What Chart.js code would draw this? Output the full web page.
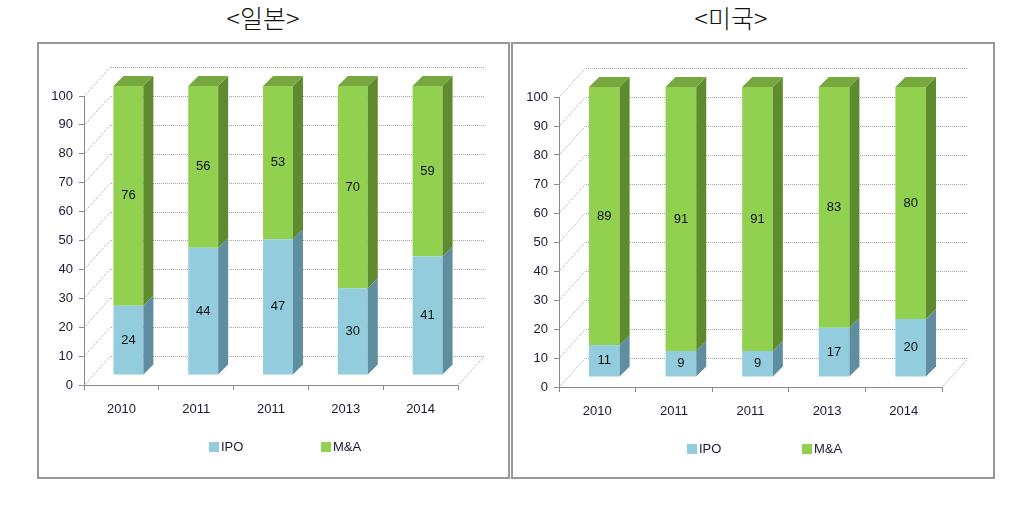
<!DOCTYPE html>
<html>
<head>
<meta charset="utf-8">
<script src="https://cdn.jsdelivr.net/npm/chart.js@4"></script>
<style>
  body { margin: 0; width: 1032px; height: 509px; background: #fff; position: relative; overflow: hidden; }
  .title { position: absolute; top: 1px; width: 200px; text-align: center; font-family: "Noto Sans CJK KR", sans-serif; font-weight: 300; font-size: 25px; line-height: 32px; color: #111; }
  .panel { position: absolute; top: 42px; height: 437px; border: 2px solid #999; box-sizing: border-box; }
  .panel canvas { position: absolute; left: 0; top: 0; }
</style>
</head>
<body>
<div class="title" style="left:163px">&lt;일본&gt;</div>
<div class="title" style="left:631px">&lt;미국&gt;</div>
<div class="panel" style="left:37px;width:473px"><canvas id="chartJapan" width="469" height="433"></canvas></div>
<div class="panel" style="left:511px;width:484px"><canvas id="chartUsa" width="480" height="433"></canvas></div>
<script>
const years = ["2010", "2011", "2011", "2013", "2014"];
const seriesNames = ["IPO", "M&A"];
const japanIpo = [24, 44, 47, 30, 41];
const japanMna = [76, 56, 53, 70, 59];
const usaIpo = [11, 9, 9, 17, 20];
const usaMna = [89, 91, 91, 83, 80];
const yTicks = { min: 0, max: 100, step: 10 };

// style bits
const wallDepth = { x: 26, y: 29 };
const barShift = { x: 7, y: 10 };
const barDepth = 10;
const legendSpots = [0.333, 0.635];
const textColor = "#1a1a33";
const fontFamily = '"Liberation Sans Narrow", "Liberation Sans", Arial, sans-serif';

Chart.defaults.font.family = fontFamily;
Chart.defaults.font.size = 13;
Chart.defaults.color = textColor;

const fake3d = {
	id: "fake3d",
	beforeDatasetsDraw(chart) {
		const { ctx, chartArea: a, scales } = chart;
		const y = scales.y;
		ctx.save();
		ctx.strokeStyle = "#a4a4a4";
		ctx.lineWidth = 1;
		ctx.setLineDash([1, 1]);
		y.ticks.forEach((t) => {
			const py = Math.round(y.getPixelForValue(t.value)) + 0.5;
			ctx.beginPath();
			ctx.moveTo(a.left, py);
			ctx.lineTo(a.left + wallDepth.x, py - wallDepth.y);
			ctx.lineTo(a.right + wallDepth.x, py - wallDepth.y);
			ctx.stroke();
		});
		const p0 = Math.round(y.getPixelForValue(0)) + 0.5;
		ctx.beginPath();
		ctx.moveTo(a.right, p0);
		ctx.lineTo(a.right + wallDepth.x, p0 - wallDepth.y);
		ctx.stroke();
		ctx.restore();
		// bars sit a bit deeper than the front plane
		ctx.save();
		ctx.translate(barShift.x, -barShift.y);
	},
	afterDatasetsDraw(chart) {
		const { ctx } = chart;
		const last = chart.data.datasets.length - 1;
		chart.data.datasets.forEach((ds, di) => {
			const meta = chart.getDatasetMeta(di);
			meta.data.forEach((bar) => {
				const { x, y, base, width } = bar.getProps(["x", "y", "base", "width"], true);
				const l = x - width / 2;
				const r = x + width / 2;
				ctx.fillStyle = ds.sideColor;
				ctx.beginPath();
				ctx.moveTo(r, y);
				ctx.lineTo(r + barDepth, y - barDepth);
				ctx.lineTo(r + barDepth, base - barDepth);
				ctx.lineTo(r, base);
				ctx.closePath();
				ctx.fill();
				if (di === last) {
					ctx.fillStyle = ds.topColor;
					ctx.beginPath();
					ctx.moveTo(l, y);
					ctx.lineTo(l + barDepth, y - barDepth);
					ctx.lineTo(r + barDepth, y - barDepth);
					ctx.lineTo(r, y);
					ctx.closePath();
					ctx.fill();
				}
			});
		});
		// value labels in the middle of each segment
		ctx.fillStyle = "#111";
		ctx.font = `13px ${fontFamily}`;
		ctx.textAlign = "center";
		ctx.textBaseline = "middle";
		chart.data.datasets.forEach((ds, di) => {
			chart.getDatasetMeta(di).data.forEach((bar, i) => {
				const { x, y, base } = bar.getProps(["x", "y", "base"], true);
				ctx.fillText(String(ds.data[i]), x, (y + base) / 2);
			});
		});
		ctx.restore();
	},
	afterDraw(chart) {
		const { ctx, chartArea: a } = chart;
		const ly = a.bottom + 62;
		ctx.save();
		ctx.font = `13px ${fontFamily}`;
		ctx.textAlign = "left";
		ctx.textBaseline = "middle";
		chart.data.datasets.forEach((ds, i) => {
			const bx = Math.round(a.left + a.width * legendSpots[i]);
			ctx.fillStyle = ds.backgroundColor;
			ctx.fillRect(bx, ly - 5, 10, 10);
			ctx.fillStyle = textColor;
			ctx.fillText(ds.label, bx + 12, ly);
		});
		ctx.restore();
	},
};

const makeChart = (canvasId, ipo, mna, box) => {
	const ctx = document.getElementById(canvasId);
	return new Chart(ctx, {
		type: "bar",
		data: {
			labels: years,
			datasets: [
				{
					label: seriesNames[0],
					data: ipo,
					backgroundColor: "#93cddd",
					sideColor: "#5f8ea0",
					topColor: "#7ab3c4",
				},
				{
					label: seriesNames[1],
					data: mna,
					backgroundColor: "#92d050",
					sideColor: "#5f8b2f",
					topColor: "#77a83f",
				},
			],
		},
		options: {
			responsive: false,
			animation: false,
			devicePixelRatio: 1,
			categoryPercentage: 1,
			barPercentage: 0.4,
			layout: {
				padding: { left: 0, right: box.right, top: box.top, bottom: box.bottom },
			},
			plugins: {
				legend: { display: false },
				tooltip: { enabled: false },
			},
			scales: {
				x: {
					stacked: true,
					grid: { drawOnChartArea: false, drawTicks: true, tickLength: 5, color: "#8a8a8a", offset: true },
					border: { display: true, color: "#8a8a8a", width: 1 },
					ticks: { padding: 12, color: textColor, maxRotation: 0 },
					afterFit: (s) => {
						s.height = 30;
					},
				},
				y: {
					stacked: true,
					min: yTicks.min,
					max: yTicks.max,
					grid: { drawOnChartArea: false, drawTicks: true, tickLength: 5, color: "#8a8a8a" },
					border: { display: true, color: "#8a8a8a", width: 1 },
					ticks: { stepSize: yTicks.step, padding: 6, color: textColor },
					afterFit: (s) => {
						s.width = box.left;
					},
				},
			},
		},
		plugins: [fake3d],
	});
};

makeChart("chartJapan", japanIpo, japanMna, { left: 45, right: 50, top: 52, bottom: 62 });
makeChart("chartUsa", usaIpo, usaMna, { left: 46, right: 51, top: 53, bottom: 60 });
</script>
</body>
</html>
